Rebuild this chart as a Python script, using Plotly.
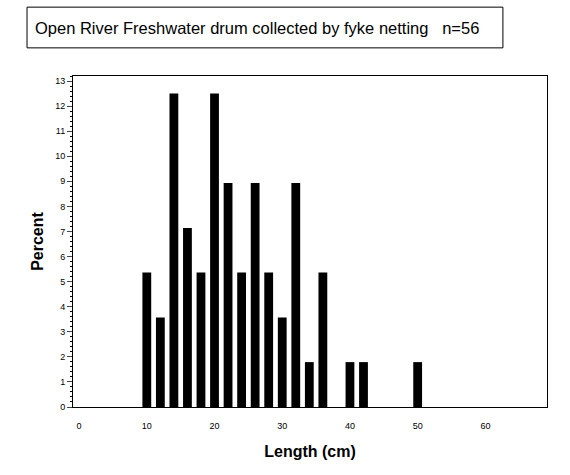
import plotly.graph_objects as go

# length class midpoints (cm) and percent of fish
lengths = [10, 12, 14, 16, 18, 20, 22, 24, 26, 28, 30, 32, 34, 36, 40, 42, 50]
percent = [5.36, 3.57, 12.5, 7.14, 5.36, 12.5, 8.93, 5.36, 8.93, 5.36, 3.57, 8.93, 1.79, 5.36, 1.79, 1.79, 1.79]
title_text = "Open River Freshwater drum collected by fyke netting   n=56"

fig = go.Figure()
fig.add_trace(go.Bar(x=lengths, y=percent, width=1.3,
                     marker=dict(color="black", line=dict(width=0))))

fig.update_layout(
    width=570, height=475,
    margin=dict(l=73, r=23, t=76, b=68),
    plot_bgcolor="white", paper_bgcolor="white",
    font=dict(family="Liberation Sans, Arial", color="black"),
    showlegend=False,
    shapes=[dict(type="rect", xref="paper", yref="paper",
                 x0=-0.097, x1=0.907, y0=1.085, y1=1.208,
                 line=dict(color="black", width=1))],
    annotations=[dict(text=title_text, xref="paper", yref="paper",
                      x=-0.084, y=1.1465, xanchor="left", yanchor="middle",
                      showarrow=False, font=dict(size=16.5))],
)

fig.update_xaxes(range=[-0.9, 69.1], tick0=0, dtick=10, ticks="",
                 showline=True, linecolor="black", linewidth=1, mirror=True,
                 showgrid=False, zeroline=False, ticklabelstandoff=10,
                 tickfont=dict(size=9),
                 title=dict(text="<b>Length (cm)</b>", font=dict(size=16), standoff=16))

fig.update_yaxes(range=[0, 13.2], tick0=0, dtick=1, ticks="outside", ticklen=5,
                 minor=dict(dtick=0.2, ticks="outside", ticklen=2, tickcolor="black"),
                 showline=True, linecolor="black", linewidth=1, mirror=True,
                 showgrid=False, zeroline=False, tickfont=dict(size=9),
                 title=dict(text="<b>Percent</b>", font=dict(size=16), standoff=7))

# drop the default page margin so the figure sits at the window corner
fig.write_html("out.html", config={"displayModeBar": False},
               post_script="document.body.style.margin='0px';")
